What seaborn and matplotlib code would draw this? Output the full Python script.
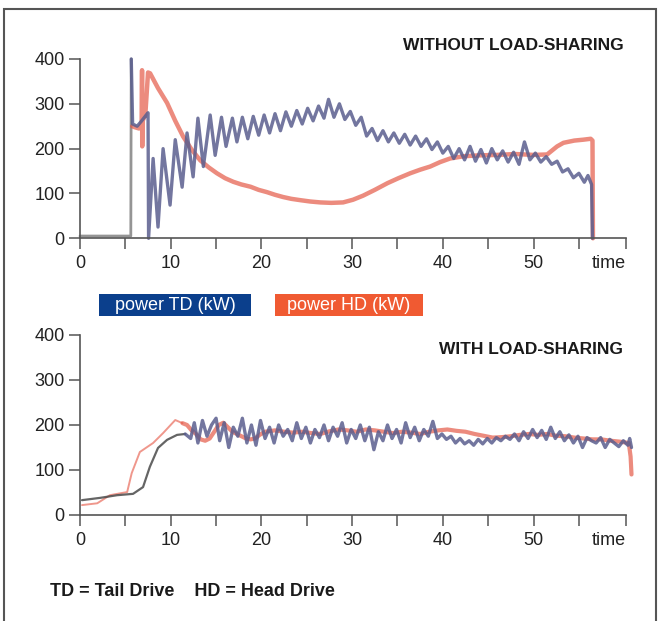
import numpy as np
import pandas as pd
import matplotlib
matplotlib.use("Agg")
import matplotlib.pyplot as plt
import seaborn as sns
from matplotlib.patches import Rectangle

sns.set_style("white")
plt.rcParams['font.family'] = ['Liberation Sans Narrow', 'Liberation Sans', 'DejaVu Sans']

# --- top chart: without load-sharing ---
td_top_t = [0, 5.6, 5.65, 5.8, 6.3, 6.8, 7.3, 7.5, 7.56,
            8.06, 8.6, 9.16, 9.93, 10.5, 11.26, 11.8, 12.47, 13.0, 13.6, 14.35, 14.9,
            15.6, 16.1, 16.8, 17.3, 17.9, 18.5, 19.1, 19.7, 20.3, 20.9, 21.5, 22.1,
            22.7, 23.3, 23.9, 24.5, 25.1, 25.7, 26.3, 26.9, 27.4, 28.0, 28.6, 29.2,
            29.8, 30.4, 31.0, 31.6, 32.2, 32.8, 33.4, 34.0, 34.6, 35.2, 35.8, 36.4,
            37.0, 37.6, 38.2, 38.8, 39.4, 40.0, 40.6, 41.2, 41.8, 42.4, 43.0, 43.6,
            44.2, 44.8, 45.4, 46.0, 46.6, 47.2, 47.8, 48.4, 49.0, 49.6, 50.2, 50.8,
            51.4, 52.0, 52.6, 53.2, 53.8, 54.4, 55.0, 55.6, 56.0, 56.4, 56.5]
td_top_v = [5, 5, 400, 255, 250, 262, 275, 280, 0,
            178, 25, 200, 74, 220, 114, 235, 137, 268, 160, 275, 185,
            270, 205, 268, 215, 270, 222, 272, 230, 275, 235, 278, 240,
            282, 250, 285, 255, 290, 262, 295, 268, 310, 270, 300, 265,
            283, 252, 270, 228, 245, 218, 240, 215, 235, 212, 232, 208,
            228, 205, 222, 198, 215, 190, 205, 178, 200, 175, 205, 172,
            198, 168, 200, 175, 195, 170, 192, 165, 215, 175, 190, 170,
            182, 165, 172, 148, 155, 135, 145, 125, 140, 120, 0]

hd_top_t = [5.75, 6.0, 6.5, 6.8, 6.84, 6.86, 6.9, 7.2, 7.5, 7.73, 8.6, 9.6, 10.5,
            11.37, 12.3, 13.25, 14.2, 15.1, 16.0, 16.9, 17.8, 18.8, 19.7, 20.6, 21.5,
            22.4, 23.3, 24.3, 25.4, 26.5, 27.7, 29.0, 30.1, 31.2, 32.5, 33.9, 35.1,
            36.4, 37.5, 38.6, 39.7, 40.8, 42.3, 44.0, 46.0, 48.0, 50.0, 51.5, 52.6,
            53.3, 54.5, 55.5, 56.3, 56.5, 56.55]
hd_top_v = [250, 248, 245, 255, 375, 205, 262, 275, 370, 368, 335, 302, 262,
            227, 198, 174, 158, 145, 134, 126, 120, 115, 108, 103, 97,
            92, 88, 85, 82, 80, 79, 80, 86, 95, 108, 123, 134,
            145, 153, 160, 170, 178, 183, 185, 186, 188, 186, 187, 205,
            213, 218, 220, 222, 218, 0]

# --- bottom chart: with load-sharing ---
td_bot_t = [0.22, 2.2, 4.1, 5.85, 6.95, 7.7, 8.6, 9.6, 10.7, 11.6,
            12.2, 12.6, 13.0, 13.5, 14.0, 14.5, 15.0, 15.4, 15.9, 16.4, 16.9, 17.4,
            17.9, 18.4, 18.9, 19.4, 19.9, 20.4, 20.9, 21.4, 21.9, 22.4, 22.9, 23.4,
            23.9, 24.4, 24.9, 25.4, 25.9, 26.4, 26.9, 27.4, 27.9, 28.4, 28.9, 29.4,
            29.9, 30.4, 30.9, 31.4, 31.9, 32.4, 32.9, 33.4, 33.9, 34.4, 34.9, 35.4,
            35.9, 36.4, 36.9, 37.4, 37.9, 38.4, 38.9, 39.4, 39.9, 40.4, 40.9, 41.4,
            41.9, 42.4, 42.9, 43.4, 43.9, 44.4, 44.9, 45.4, 45.9, 46.4, 46.9, 47.4,
            47.9, 48.4, 48.9, 49.4, 49.9, 50.4, 50.9, 51.4, 51.9, 52.4, 52.9, 53.4,
            53.9, 54.4, 54.9, 55.4, 55.9, 56.4, 56.9, 57.4, 57.9, 58.4, 58.9, 59.4,
            59.9, 60.4, 60.6, 60.8]
td_bot_v = [33, 38, 44, 47, 62, 107, 149, 167, 178, 180,
            170, 205, 160, 210, 175, 200, 215, 165, 205, 150, 195, 175,
            215, 160, 200, 155, 210, 170, 195, 160, 200, 175, 190, 165,
            205, 170, 195, 160, 190, 172, 200, 165, 195, 175, 205, 160,
            190, 170, 200, 165, 195, 145, 185, 165, 200, 170, 190, 160,
            205, 172, 195, 165, 190, 175, 208, 170, 180, 168, 175, 160,
            170, 158, 165, 155, 168, 158, 170, 160, 172, 165, 175, 168,
            180, 165, 185, 170, 190, 172, 188, 168, 195, 170, 185, 165,
            178, 160, 175, 150, 172, 165, 160, 172, 150, 168, 160, 152,
            165, 155, 170, 150]

hd_bot_t = [0.22, 1.9, 3.3, 5.2, 5.7, 6.6, 8.06, 9.16, 10.5, 11.3,
            11.8, 12.3, 12.8, 13.3, 13.8, 14.3, 14.8, 15.3, 15.8, 16.3, 16.8, 17.3,
            17.8, 18.3, 18.8, 19.3, 19.8, 20.4, 21.5, 22.5, 23.5, 24.5, 25.5, 26.5,
            27.5, 28.5, 29.5, 30.5, 31.5, 32.5, 33.5, 34.5, 35.5, 36.5, 37.5, 38.5,
            39.5, 40.5, 41.5, 42.5, 43.5, 44.5, 45.5, 46.5, 47.5, 48.5, 49.5, 50.5,
            51.5, 52.5, 53.5, 54.5, 55.5, 56.5, 57.5, 58.5, 59.5, 60.5, 60.7, 60.8]
hd_bot_v = [22, 26, 44, 51, 93, 140, 160, 182, 211, 204,
            200, 188, 180, 168, 165, 170, 185, 200, 205, 195, 185, 180,
            175, 170, 168, 170, 178, 185, 188, 185, 183, 185, 182, 180,
            186, 190, 188, 185, 190, 188, 185, 182, 185, 183, 180, 185,
            188, 190, 187, 185, 180, 176, 172, 173, 175, 178, 180, 178,
            180, 176, 175, 172, 170, 168, 168, 165, 163, 160, 130, 90]

x_ticks = [0, 5, 10, 15, 20, 25, 30, 35, 40, 45, 50, 55, 60.2]
x_labels = ["0", "", "10", "", "20", "", "30", "", "40", "", "50", "", "time"]
y_ticks = [0, 100, 200, 300, 400]

td_color = "#5a5e8e"
hd_color = "#e45a48"
spine_color = "#555555"

fig = plt.figure(figsize=(6.59, 6.21), dpi=100)
ax1 = fig.add_axes([0.1214, 0.6163, 0.8286, 0.2887])
ax2 = fig.add_axes([0.1214, 0.1707, 0.8286, 0.2899])


def draw(ax, t, v, color, lw, alpha):
    sns.lineplot(x=t, y=v, ax=ax, color=color, linewidth=lw, alpha=alpha,
                 estimator=None, sort=False)


# top: gray lead-in and spike, then the two drives
draw(ax1, td_top_t[:3], td_top_v[:3], "#8a8a8a", 2.0, 0.9)
draw(ax1, hd_top_t, hd_top_v, hd_color, 3.2, 0.7)
draw(ax1, td_top_t[2:], td_top_v[2:], td_color, 2.4, 0.85)

# bottom: thin early ramps, then the noisy bands
draw(ax2, hd_bot_t[:10], hd_bot_v[:10], "#ee8c80", 1.4, 0.9)
draw(ax2, td_bot_t[:10], td_bot_v[:10], "#4a4a4a", 1.6, 0.85)
draw(ax2, hd_bot_t[9:], hd_bot_v[9:], hd_color, 3.0, 0.7)
draw(ax2, td_bot_t[9:], td_bot_v[9:], td_color, 2.4, 0.85)

for ax in [ax1, ax2]:
    for ln in ax.lines:
        ln.set_clip_on(False)
    ax.set_xlim(0, 60.2)
    ax.set_ylim(0, 400)
    ax.set_xticks(x_ticks)
    ax.set_xticklabels(x_labels)
    ax.get_xticklabels()[-1].set_ha("right")
    ax.set_yticks(y_ticks)
    ax.set_xlabel("")
    ax.set_ylabel("")
    sns.despine(ax=ax)
    for s in ["left", "bottom"]:
        ax.spines[s].set_color(spine_color)
        ax.spines[s].set_linewidth(1.2)
    ax.tick_params(axis="both", direction="out", length=8, width=1.1,
                   bottom=True, left=True, color=spine_color, labelsize=13,
                   labelcolor="#222222")
    ax.tick_params(axis="x", pad=4)
    ax.tick_params(axis="y", pad=3)

fig.text(0.946, 0.926, "WITHOUT LOAD-SHARING", ha="right", va="center",
         fontsize=12.5, fontweight="bold", color="#1a1a1a")
fig.text(0.946, 0.4364, "WITH LOAD-SHARING", ha="right", va="center",
         fontsize=12.5, fontweight="bold", color="#1a1a1a")

# legend boxes
fig.patches.append(Rectangle((0.1502, 0.4911), 0.2306, 0.0354, transform=fig.transFigure,
                             facecolor="#0b3f8c", edgecolor="none"))
fig.patches.append(Rectangle((0.4173, 0.4911), 0.2246, 0.0354, transform=fig.transFigure,
                             facecolor="#f05a32", edgecolor="none"))
fig.text(0.1502 + 0.2306 / 2, 0.5088, "power TD (kW)", ha="center", va="center",
         fontsize=13, color="white")
fig.text(0.4173 + 0.2246 / 2, 0.5088, "power HD (kW)", ha="center", va="center",
         fontsize=13, color="white")

fig.text(0.0759, 0.0467, "TD = Tail Drive    HD = Head Drive", ha="left", va="center",
         fontsize=13, fontweight="bold", color="#1a1a1a")

# panel frame
fig.patches.append(Rectangle((4 / 659, -0.01), 652 / 659, 1 - 9 / 621 + 0.01,
                             transform=fig.transFigure, facecolor="none",
                             edgecolor="#555555", linewidth=1.5))

fig.savefig("out.png", dpi=100)
